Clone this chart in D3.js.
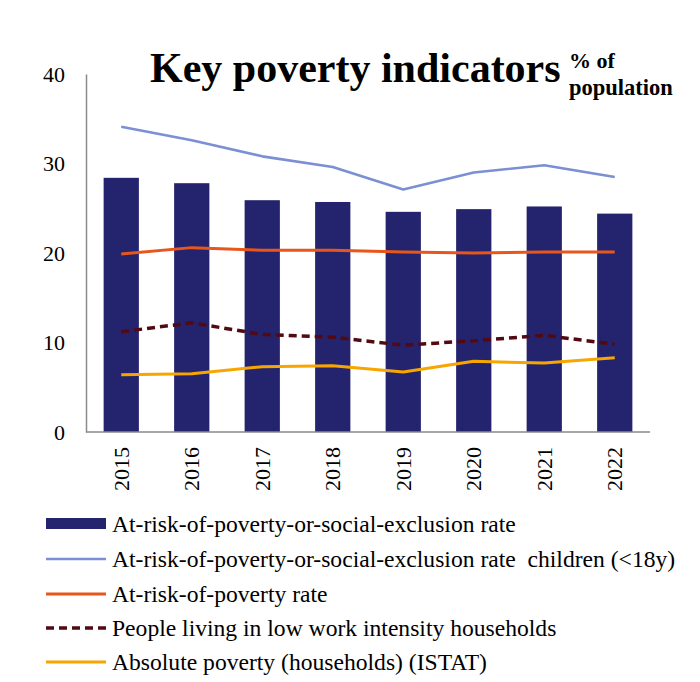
<!DOCTYPE html>
<html>
<head>
<meta charset="utf-8">
<script src="https://cdn.jsdelivr.net/npm/d3@7"></script>
<style>
  html, body { margin: 0; padding: 0; background: #fff; }
  svg { display: block; }
  text { font-family: "Liberation Serif", "Times New Roman", serif; fill: #000; white-space: pre; }
</style>
</head>
<body>
<svg id="chart" width="700" height="682"></svg>
<script>
const years = ["2015", "2016", "2017", "2018", "2019", "2020", "2021", "2022"];
const aropeRate = [28.4, 27.8, 25.9, 25.7, 24.6, 24.9, 25.2, 24.4];
const aropeChildren = [34.1, 32.6, 30.8, 29.6, 27.1, 29.0, 29.8, 28.5];
const atRiskPoverty = [19.9, 20.6, 20.3, 20.3, 20.1, 20.0, 20.1, 20.1];
const lowWorkIntensity = [11.2, 12.2, 10.9, 10.6, 9.7, 10.2, 10.8, 9.8];
const absolutePoverty = [6.4, 6.5, 7.3, 7.4, 6.7, 7.9, 7.7, 8.3];
const yTicks = [0, 10, 20, 30, 40];
const legendLabels = [
  "At-risk-of-poverty-or-social-exclusion rate",
  "At-risk-of-poverty-or-social-exclusion rate  children (<18y)",
  "At-risk-of-poverty rate",
  "People living in low work intensity households",
  "Absolute poverty (households) (ISTAT)"
];

const svg = d3.select("#chart");

const x = d3.scaleBand().domain(years).range([86, 650]).paddingInner(0.5).paddingOuter(0.25);
const y = d3.scaleLinear().domain([0, 40]).range([432, 74]);

// cut-off heading at very top (only its descenders show)
svg.append("text")
  .attr("x", 330).attr("y", -5)
  .attr("text-anchor", "middle")
  .style("font-size", "24px").style("font-weight", "bold")
  .text("Share of people at risk of poverty");

// title
svg.append("text")
  .attr("x", 150).attr("y", 82)
  .style("font-size", "42px").style("font-weight", "bold")
  .text("Key poverty indicators");
svg.append("text")
  .attr("x", 569).attr("y", 68)
  .style("font-size", "22px").style("font-weight", "bold")
  .text("% of");
svg.append("text")
  .attr("x", 569).attr("y", 95)
  .style("font-size", "22.5px").style("font-weight", "bold")
  .text("population");

// bars
svg.append("g").selectAll("rect").data(years).join("rect")
  .attr("x", d => x(d))
  .attr("width", x.bandwidth())
  .attr("y", (d, i) => y(aropeRate[i]))
  .attr("height", (d, i) => y(0) - y(aropeRate[i]))
  .attr("fill", "#24246e");

// axes
const yAxis = svg.append("g").attr("transform", "translate(86,0)")
  .call(d3.axisLeft(y).tickValues(yTicks).tickSize(0).tickPadding(21).tickFormat(d3.format("d")));
yAxis.select(".domain").attr("stroke", "#8a8a8a").attr("stroke-width", 1.5);
yAxis.selectAll("text").style("font-size", "22px").style("font-family", "Liberation Serif, serif");

const xAxis = svg.append("g").attr("transform", "translate(0,432)")
  .call(d3.axisBottom(x).tickSize(0).tickPadding(0));
xAxis.select(".domain").attr("stroke", "#8a8a8a").attr("stroke-width", 1.5).attr("d", "M86,0H650");
xAxis.selectAll("text")
  .style("font-size", "22px").style("font-family", "Liberation Serif, serif")
  .attr("transform", "rotate(-90)")
  .attr("text-anchor", "end")
  .attr("x", -15).attr("y", 0).attr("dy", "0.35em");

// lines
const lineGen = d3.line().x((d, i) => x(years[i]) + x.bandwidth() / 2).y(d => y(d));
const lineSeries = [
  { data: aropeChildren, color: "#7b8fd4", width: 2.6, dash: null },
  { data: atRiskPoverty, color: "#e8561b", width: 3, dash: null },
  { data: lowWorkIntensity, color: "#520a12", width: 3.5, dash: "8,5" },
  { data: absolutePoverty, color: "#f7a600", width: 3, dash: null }
];
svg.append("g").selectAll("path").data(lineSeries).join("path")
  .attr("d", s => lineGen(s.data))
  .attr("fill", "none")
  .attr("stroke", s => s.color)
  .attr("stroke-width", s => s.width)
  .attr("stroke-dasharray", s => s.dash)
  .attr("stroke-linejoin", "round");

// legend
const legendY = [524, 559, 594, 628, 662];
const lg = svg.append("g");
legendLabels.forEach((lab, i) => {
  const ly = legendY[i];
  if (i === 0) {
    lg.append("rect").attr("x", 46).attr("y", ly - 6).attr("width", 60).attr("height", 11).attr("fill", "#24246e");
  } else {
    const s = lineSeries[i - 1];
    lg.append("line").attr("x1", 46).attr("x2", 106).attr("y1", ly).attr("y2", ly)
      .attr("stroke", s.color).attr("stroke-width", s.width)
      .attr("stroke-dasharray", s.dash);
  }
  lg.append("text").attr("x", 112).attr("y", ly).attr("dy", "0.35em")
    .style("font-size", "23.6px").text(lab);
});
</script>
</body>
</html>
